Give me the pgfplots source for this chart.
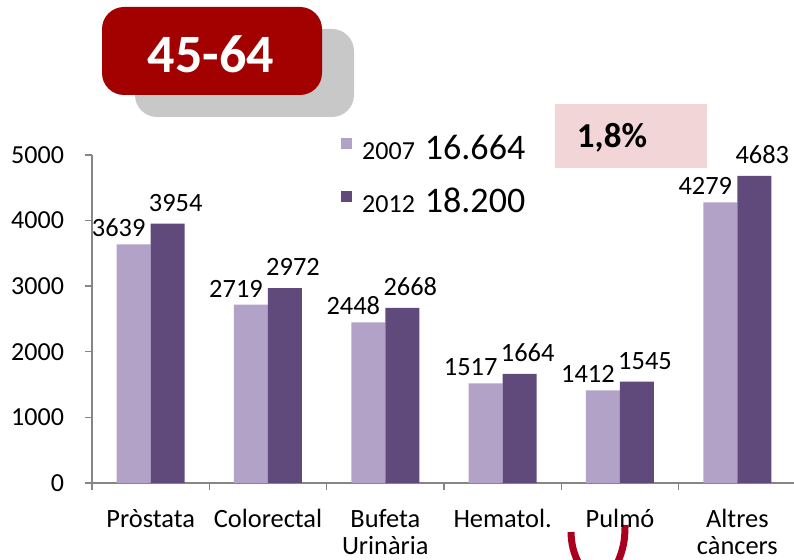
\documentclass[border=0pt]{standalone}
\usepackage{pgfplots}
\pgfplotsset{compat=1.18}
\usepackage{fontspec}
\setmainfont{Carlito}

\definecolor{light}{HTML}{B3A2C7}
\definecolor{dark}{HTML}{604A7B}
\definecolor{axisgray}{HTML}{868686}
\definecolor{boxred}{HTML}{A30000}
\definecolor{shadow}{HTML}{C8C8C8}
\definecolor{pinkbox}{HTML}{F2D6D7}
\definecolor{logored}{HTML}{A8001E}

\begin{document}
\begin{tikzpicture}
\useasboundingbox (0,0) rectangle (397pt,280pt);

% age group tag with its shadow
\fill[shadow, rounded corners=11pt] (67.5pt,221.5pt) rectangle (177pt,265.5pt);
\fill[boxred, rounded corners=11pt] (51pt,232.5pt) rectangle (161pt,276.5pt);
\node[text=white, font=\fontsize{27}{32}\selectfont\bfseries] at (105.5pt,252.75pt) {45-64};

% growth box
\fill[pinkbox] (277.5pt,196pt) rectangle (353.5pt,228pt);
\node[anchor=base, font=\fontsize{17.5}{20}\selectfont\bfseries] at (306pt,206pt) {1,8\%};

% logo fragment at the bottom
\draw[logored, line width=3.5pt] (285.5pt,14pt) to[bend right=12] (289.5pt,-2pt);
\draw[logored, line width=3.5pt] (312.5pt,17.5pt) to[bend left=12] (308.5pt,-2pt);

\begin{axis}[
    at={(46pt,38.5pt)}, anchor=south west,
    scale only axis,
    width=352pt, height=164pt,
    xmin=-0.5, xmax=5.5,
    ymin=0, ymax=5000,
    ybar=0pt, bar width=17pt,
    axis lines*=left,
    axis line style={-, draw=axisgray, line width=0.7pt},
    tick align=outside,
    major tick length=3.5pt,
    minor tick length=3.5pt,
    ytick={0,1000,...,5000},
    y tick style={draw=axisgray, line width=0.7pt},
    xtick={0,...,5},
    minor xtick={-0.5,0.5,...,5.5},
    major x tick style={draw=none},
    minor x tick style={draw=axisgray, line width=0.7pt},
    xticklabels={Pròstata, Colorectal, Bufeta\\Urinària, Hematol., Pulmó, Altres\\càncers},
    x tick label style={align=center, font=\fontsize{13.2}{13.5}\selectfont, yshift=-6pt},
    y tick label style={font=\fontsize{13}{15}\selectfont, xshift=-7pt},
    /pgf/number format/assume math mode=true,
    /pgf/number format/1000 sep={},
    nodes near coords,
    nodes near coords style={font=\fontsize{13.2}{15}\selectfont, text=black, anchor=south, inner sep=0pt,
        /pgf/number format/assume math mode=true, /pgf/number format/1000 sep={}},
    legend image code/.code={\fill[#1] (0pt,0pt) rectangle (5.5pt,5.5pt);},
    legend cell align=left,
    legend style={at={(axis description cs:0.354,1.061)}, anchor=north west,
        draw=none, fill=none, inner sep=0pt, outer sep=0pt,
        nodes={inner sep=0pt}, row sep=13pt,
        font=\fontsize{13}{15}\selectfont,
        /tikz/every odd column/.append style={column sep=5pt}},
]
\addplot[fill=light, draw=none, every node near coord/.append style={xshift=-7.5pt, yshift=3.5pt}]
    coordinates {(0,3639) (1,2719) (2,2448) (3,1517) (4,1412) (5,4279)};
\addplot[fill=dark, draw=none, every node near coord/.append style={xshift=4pt, yshift=6pt}]
    coordinates {(0,3954) (1,2972) (2,2668) (3,1664) (4,1545) (5,4683)};
\legend{2007\hspace{5pt}{\fontsize{18}{21}\selectfont 16.664}, 2012\hspace{5pt}{\fontsize{18}{21}\selectfont 18.200}}
\end{axis}
\end{tikzpicture}
\end{document}
